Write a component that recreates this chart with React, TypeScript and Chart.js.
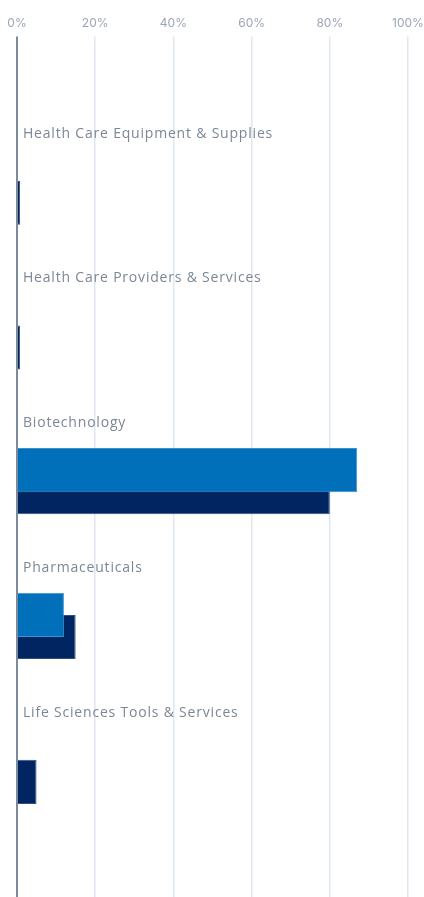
import React, { useEffect, useRef } from "react";
import { Chart, registerables } from "chart.js";

Chart.register(...registerables);

const categories = [
  "Health Care Equipment & Supplies",
  "Health Care Providers & Services",
  "Biotechnology",
  "Pharmaceuticals",
  "Life Sciences Tools & Services",
];
const seriesLight = [0, 0, 87, 12, 0];
const seriesDark = [0.8, 0.8, 80, 15, 5];
const xTicks = [0, 20, 40, 60, 80, 100];

const LIGHT = "#0070bb";
const DARK = "#002561";

const labelPlugin = {
  id: "catLabels",
  afterDatasetsDraw(chart: any) {
    const { ctx, chartArea, scales } = chart;
    const y = scales.y;
    ctx.save();
    ctx.font = "14px 'Open Sans'";
    (ctx as any).letterSpacing = "0.8px";
    ctx.fillStyle = "#7b8796";
    ctx.textBaseline = "middle";
    ctx.textAlign = "left";
    categories.forEach((c, i) => {
      const py = y.getPixelForValue(i) - 58;
      ctx.fillText(c, chartArea.left + 6, py);
    });
    ctx.restore();
  },
};

export default function App() {
  const ref = useRef<HTMLCanvasElement>(null);
  useEffect(() => {
    document.body.style.margin = "0";
    const chart = new Chart(ref.current!, {
      type: "bar",
      data: {
        datasets: [
          {
            label: "A",
            data: seriesLight.map((v, i) => ({ x: v, y: i })),
            backgroundColor: LIGHT,
            borderColor: "#3f90cf",
            borderWidth: 1,
          },
          {
            label: "B",
            data: seriesDark.map((v, i) => ({ x: v, y: i })),
            backgroundColor: DARK,
            borderColor: "#34507f",
            borderWidth: 1,
          },
        ],
      },
      options: {
        indexAxis: "y",
        animation: false,
        responsive: false,
        layout: { padding: { left: 0, right: 0, top: 10, bottom: 0 } },
        categoryPercentage: 0.305,
        barPercentage: 2,
        plugins: { legend: { display: false }, tooltip: { enabled: false } },
        scales: {
          x: {
            position: "top",
            min: 0,
            max: 100,
            afterBuildTicks: (s: any) => {
              s.ticks = xTicks.map((v) => ({ value: v }));
            },
            afterFit: (s: any) => {
              s.paddingLeft = 17;
              s.paddingRight = 16;
            },
            ticks: {
              callback: (v: any) => v + "%",
              color: "#9aa6b5",
              font: { family: "Inter", size: 12 },
              padding: 6,
            },
            grid: {
              color: (c: any) => (c.tick && c.tick.value === 0 ? "#7d8a99" : "#dfe8f0"),
              lineWidth: (c: any) => (c.tick && c.tick.value === 0 ? 2 : 1.5),
              tickLength: 5,
            },
            border: { display: false },
          },
          y: {
            type: "linear",
            reverse: true,
            display: false,
            offset: false,
            grid: { offset: false },
            min: -1.038,
            max: 4.872,
            afterBuildTicks: (s: any) => {
              s.ticks = categories.map((_, i) => ({ value: i }));
            },
          },
        },
      } as any,
      plugins: [labelPlugin],
    });
    return () => chart.destroy();
  }, []);
  return <canvas ref={ref} width={424} height={897} style={{ display: "block" }} />;
}
